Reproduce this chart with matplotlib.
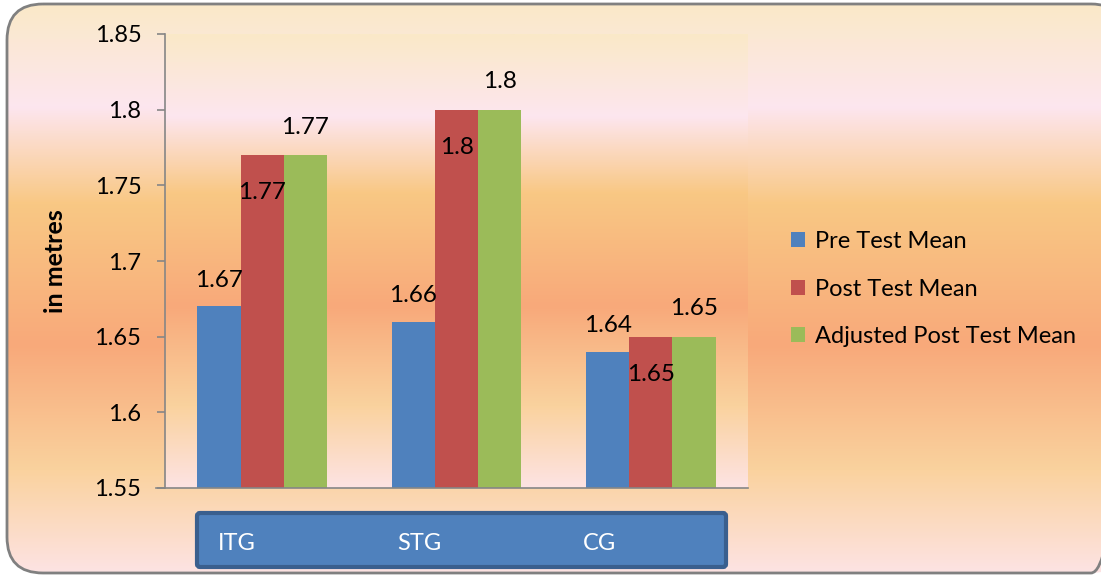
import numpy as np
import matplotlib
matplotlib.use('Agg')
import matplotlib.pyplot as plt
from matplotlib.patches import FancyBboxPatch
from matplotlib.colors import LinearSegmentedColormap

groups = ['ITG', 'STG', 'CG']
series = ['Pre Test Mean', 'Post Test Mean', 'Adjusted Post Test Mean']
pre_test = [1.67, 1.66, 1.64]
post_test = [1.77, 1.80, 1.65]
adjusted_post = [1.77, 1.80, 1.65]
yticks = [1.55, 1.6, 1.65, 1.7, 1.75, 1.8, 1.85]
ytick_labels = ['1.55', '1.6', '1.65', '1.7', '1.75', '1.8', '1.85']

colors = ['#4F81BD', '#C0504D', '#9BBB59']
plt.rcParams['font.family'] = ['Lato', 'DejaVu Sans']

# warm "Excel preset" gradient, top to bottom
grad_cmap = LinearSegmentedColormap.from_list('warm', [
    (0.0, '#FAE9C8'), (0.18, '#FDE6EF'), (0.35, '#F9C884'),
    (0.6, '#F8A97A'), (0.82, '#FAD29E'), (1.0, '#FDE3E3')])
grad = np.linspace(0, 1, 256).reshape(-1, 1)

fig = plt.figure(figsize=(11.01, 5.75), dpi=100)

# figure background inside rounded border
bg = fig.add_axes([0, 0, 1, 1], zorder=-5)
bg.set_xlim(0, 1101)
bg.set_ylim(575, 0)
bg.axis('off')
frame = FancyBboxPatch((7, 4), 1120, 569, boxstyle='round,pad=0,rounding_size=36',
                       facecolor='none', edgecolor='#808080', linewidth=2, zorder=3)
bg.add_patch(frame)
img = bg.imshow(grad, extent=[0, 1101, 573, 4], aspect='auto', cmap=grad_cmap, zorder=1)
img.set_clip_path(frame)

ax = fig.add_axes([165 / 1101, 1 - 488 / 575, 583 / 1101, 454 / 575])
ax.patch.set_alpha(0)
ax.imshow(grad, extent=[0, 1, 0, 1], transform=ax.transAxes, aspect='auto',
          cmap=grad_cmap, zorder=0)

x = np.arange(len(groups))
w = 0.222
values = [pre_test, post_test, adjusted_post]
offsets = [(0, 19), (0, -27), (0, 20)]
for i, (vals, name) in enumerate(zip(values, series)):
    xs = x + (i - 1) * w
    ax.bar(xs, np.array(vals) - 1.55, width=w, bottom=1.55, color=colors[i],
           label=name, zorder=2)
    for xi, v in zip(xs, vals):
        ax.annotate(f'{v:g}', (xi, v), xytext=offsets[i], textcoords='offset points',
                    ha='center', va='center', fontsize=17.5, zorder=4)

ax.set_xlim(-0.5, 2.5)
ax.set_ylim(1.55, 1.85)
ax.set_yticks(yticks)
ax.set_yticklabels(ytick_labels, fontsize=17)
ax.set_xticks([])
ax.tick_params(axis='y', length=6, width=1.2, color='#868686', pad=11)
for s in ['top', 'right']:
    ax.spines[s].set_visible(False)
for s in ['left', 'bottom']:
    ax.spines[s].set_color('#868686')
    ax.spines[s].set_linewidth(1.2)
ax.spines['bottom'].set_bounds(-0.545, 2.5)
ax.set_ylabel('in metres', fontsize=18, fontweight='bold')
ax.yaxis.set_label_coords(-0.168, 0.5)

# category box below the axis
box = FancyBboxPatch((197, 513), 529, 54, boxstyle='round,pad=0,rounding_size=3',
                     facecolor='#4F81BD', edgecolor='#3A5F8E', linewidth=3, zorder=3)
bg.add_patch(box)
for label, px in zip(groups, [237, 419, 599]):
    fig.text(px / 1101, 1 - 544 / 575, label, color='white', fontsize=17,
             ha='center', va='center')

fig.legend(loc='center left', bbox_to_anchor=(791 / 1101, 1 - 289 / 575),
           frameon=False, fontsize=17, handlelength=0.6, handleheight=0.6,
           handletextpad=0.4, labelspacing=1.12, borderpad=0, borderaxespad=0)

fig.savefig('out.png', dpi=100)
